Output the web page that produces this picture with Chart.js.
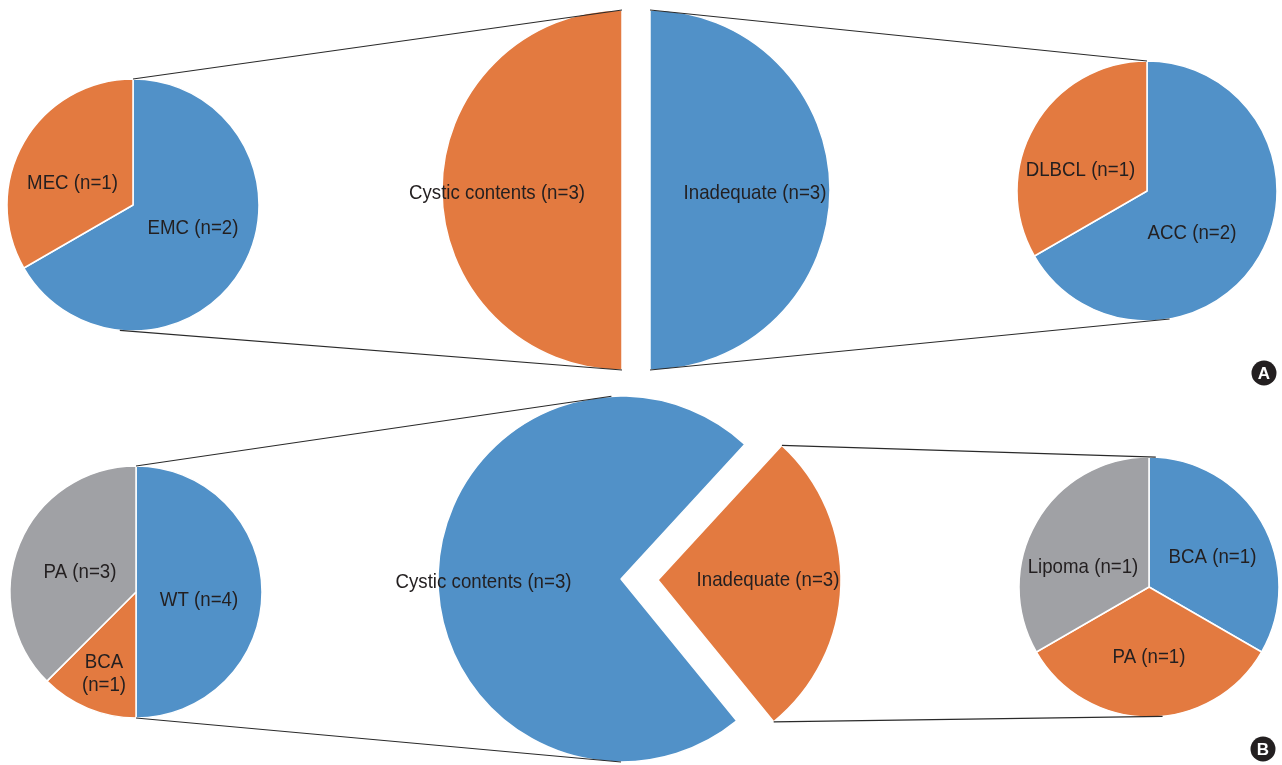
<!DOCTYPE html>
<html>
<head>
<meta charset="utf-8">
<script src="https://cdn.jsdelivr.net/npm/chart.js@4.4.1/dist/chart.umd.min.js"></script>
<style>
html, body { margin: 0; padding: 0; background: #ffffff; }
#stage { position: relative; width: 1282px; height: 765px; overflow: hidden; background: #ffffff; }
#stage canvas { position: absolute; }
</style>
</head>
<body>
<div id="stage"></div>
<script>
// ---------- DATA ----------
// Panel A
const aLeftCategories   = ['EMC (n=2)', 'MEC (n=1)'];
const aLeftValues       = [2, 1];
const aCenterCategories = ['Inadequate (n=3)', 'Cystic contents (n=3)'];
const aCenterValues     = [3, 3];
const aRightCategories  = ['ACC (n=2)', 'DLBCL (n=1)'];
const aRightValues      = [2, 1];
// Panel B
const bLeftCategories   = ['WT (n=4)', 'BCA\n(n=1)', 'PA (n=3)'];
const bLeftValues       = [4, 1, 3];
const bCenterCategories = ['Cystic contents (n=3)', 'Inadequate (n=3)'];
const bCenterValues     = [8, 3];
const bRightCategories  = ['BCA (n=1)', 'PA (n=1)', 'Lipoma (n=1)'];
const bRightValues      = [1, 1, 1];
const panelLetters      = ['A', 'B'];

// ---------- STYLE / LAYOUT ----------
const BLUE = '#5191C8', ORANGE = '#E37A40', GRAY = '#A0A1A5', TEXT = '#231F20';
const FONT = '21px "Liberation Sans", Arial, Helvetica, sans-serif';
const X_SCALE = 0.89;
const PAD = 150;

const pies = [
  { id: 'aLeft', cx: 133, cy: 205, r: 126, cats: aLeftCategories, vals: aLeftValues,
    colors: [BLUE, ORANGE], rotation: 0, show: [0, 1], labelPos: [[60, 23.5], [-60.5, -21.5]] },
  { id: 'aCenterL', cx: 622, cy: 190, r: 180, cats: aCenterCategories, vals: aCenterValues,
    colors: [BLUE, ORANGE], rotation: 0, show: [1], labelPos: [null, [-125, 3.5]] },
  { id: 'aCenterR', cx: 650, cy: 190, r: 180, cats: aCenterCategories, vals: aCenterValues,
    colors: [BLUE, ORANGE], rotation: 0, show: [0], labelPos: [[105, 3.5], null] },
  { id: 'aRight', cx: 1147, cy: 191, r: 130, cats: aRightCategories, vals: aRightValues,
    colors: [BLUE, ORANGE], rotation: 0, show: [0, 1], labelPos: [[45, 42], [-66.5, -21]] },
  { id: 'bLeft', cx: 136, cy: 592, r: 126, cats: bLeftCategories, vals: bLeftValues,
    colors: [BLUE, ORANGE, GRAY], rotation: 0, show: [0, 1, 2], labelPos: [[63, 8], [-32, 81.5], [-56, -20]] },
  { id: 'bCenterL', cx: 621, cy: 579, r: 183, cats: bCenterCategories, vals: bCenterValues,
    colors: [BLUE, ORANGE], rotation: 140.8, show: [0], labelPos: [[-137.5, 3], null] },
  { id: 'bCenterR', explodeOf: 'bCenterL', explodeIndex: 1, explode: 37, r: 183, cats: bCenterCategories, vals: bCenterValues,
    colors: [BLUE, ORANGE], rotation: 140.8, show: [1], labelPos: [null, [110, 0]] },
  { id: 'bRight', cx: 1149, cy: 587, r: 130, cats: bRightCategories, vals: bRightValues,
    colors: [BLUE, ORANGE, GRAY], rotation: 0, show: [0, 1, 2], labelPos: [[63.5, -29.5], [0, 70.5], [-66, -19.5]] }
];

// connectors: angles in degrees clockwise from 12 o'clock, or slice edge corners
const connectors = [
  [{ id: 'aLeft', deg: 0 },   { id: 'aCenterL', deg: 0 }],
  [{ id: 'aLeft', deg: 186 }, { id: 'aCenterL', deg: 180 }],
  [{ id: 'aCenterR', deg: 0 },   { id: 'aRight', deg: 0 }],
  [{ id: 'aCenterR', deg: 180 }, { id: 'aRight', deg: 170 }],
  [{ id: 'bLeft', deg: 0 },   { id: 'bCenterL', deg: -3 }],
  [{ id: 'bLeft', deg: 180 }, { id: 'bCenterL', deg: 180 }],
  [{ id: 'bCenterR', el: 1, edge: 'start' }, { id: 'bRight', deg: 3 }],
  [{ id: 'bCenterR', el: 1, edge: 'end' },   { id: 'bRight', deg: 174 }]
];
const badges = [{ x: 1264, y: 373 }, { x: 1263, y: 749 }];

// ---------- BUILD ----------
const stage = document.getElementById('stage');
const charts = {};
const offsets = {};

const labelPlugin = {
  id: 'sliceLabels',
  afterDatasetsDraw(chart, args, opts) {
    const ctx = chart.ctx;
    const meta = chart.getDatasetMeta(0);
    ctx.save();
    ctx.font = FONT;
    ctx.fillStyle = TEXT;
    ctx.textAlign = 'center';
    ctx.textBaseline = 'middle';
    opts.show.forEach(i => {
      const pos = opts.labelPos[i];
      if (!pos) return;
      const el = meta.data[i];
      const lines = String(chart.data.labels[i]).split('\n');
      const lh = 23;
      lines.forEach((line, j) => {
        const y = el.y + pos[1] + (j - (lines.length - 1) / 2) * lh;
        ctx.save();
        ctx.translate(el.x + pos[0], y);
        ctx.scale(X_SCALE, 1);
        ctx.fillText(line, 0, 0);
        ctx.restore();
      });
    });
    ctx.restore();
  }
};

function sliceMidDeg(p, idx) {
  const total = p.vals.reduce((s, v) => s + v, 0);
  let before = 0;
  for (let k = 0; k < idx; k++) before += p.vals[k];
  return p.rotation + (before + p.vals[idx] / 2) / total * 360;
}

pies.forEach(p => {
  if (p.explodeOf) {
    const base = pies.find(q => q.id === p.explodeOf);
    const mid = (sliceMidDeg(p, p.explodeIndex) - 90) * Math.PI / 180;
    p.cx = Math.round(base.cx + p.explode * Math.cos(mid));
    p.cy = Math.round(base.cy + p.explode * Math.sin(mid));
  }
  const size = 2 * (p.r + PAD);
  const canvas = document.createElement('canvas');
  canvas.width = size; canvas.height = size;
  canvas.style.width = size + 'px'; canvas.style.height = size + 'px';
  const left = p.cx - size / 2, top = p.cy - size / 2;
  canvas.style.left = left + 'px'; canvas.style.top = top + 'px';
  stage.appendChild(canvas);
  offsets[p.id] = { left, top };
  const bg = p.vals.map((v, i) => p.show.includes(i) ? p.colors[i] : 'rgba(0,0,0,0)');
  const bw = p.vals.map((v, i) => p.show.includes(i) ? 1.5 : 0);
  charts[p.id] = new Chart(canvas, {
    type: 'pie',
    data: {
      labels: p.cats,
      datasets: [{ data: p.vals, backgroundColor: bg, borderColor: '#ffffff', borderWidth: bw, radius: p.r }]
    },
    options: {
      responsive: false,
      animation: false,
      rotation: p.rotation,
      radius: p.r,
      layout: { padding: 0 },
      events: [],
      plugins: {
        legend: { display: false },
        tooltip: { enabled: false },
        sliceLabels: { show: p.show, labelPos: p.labelPos }
      }
    },
    plugins: [labelPlugin]
  });
});

// ---------- OVERLAY: connectors and panel badges ----------
const overlay = document.createElement('canvas');
overlay.width = 1282; overlay.height = 765;
overlay.style.left = '0px'; overlay.style.top = '0px';
overlay.style.pointerEvents = 'none';
stage.appendChild(overlay);
const octx = overlay.getContext('2d');

function point(ref) {
  const chart = charts[ref.id];
  const off = offsets[ref.id];
  const el = chart.getDatasetMeta(0).data[ref.el || 0];
  let theta;
  if (ref.edge) theta = ref.edge === 'start' ? el.startAngle : el.endAngle;
  else theta = (ref.deg - 90) * Math.PI / 180;
  const r = el.outerRadius;
  return [off.left + el.x + r * Math.cos(theta), off.top + el.y + r * Math.sin(theta)];
}

octx.strokeStyle = '#2a2a2a';
octx.lineWidth = 1.2;
connectors.forEach(([a, b]) => {
  const p1 = point(a), p2 = point(b);
  octx.beginPath();
  octx.moveTo(p1[0], p1[1]);
  octx.lineTo(p2[0], p2[1]);
  octx.stroke();
});

badges.forEach((bd, i) => {
  octx.beginPath();
  octx.arc(bd.x, bd.y, 12.5, 0, Math.PI * 2);
  octx.fillStyle = '#231F20';
  octx.fill();
  octx.fillStyle = '#ffffff';
  octx.font = 'bold 17px "Liberation Sans", Arial, sans-serif';
  octx.textAlign = 'center';
  octx.textBaseline = 'middle';
  octx.fillText(panelLetters[i], bd.x, bd.y + 1);
});
</script>
</body>
</html>
